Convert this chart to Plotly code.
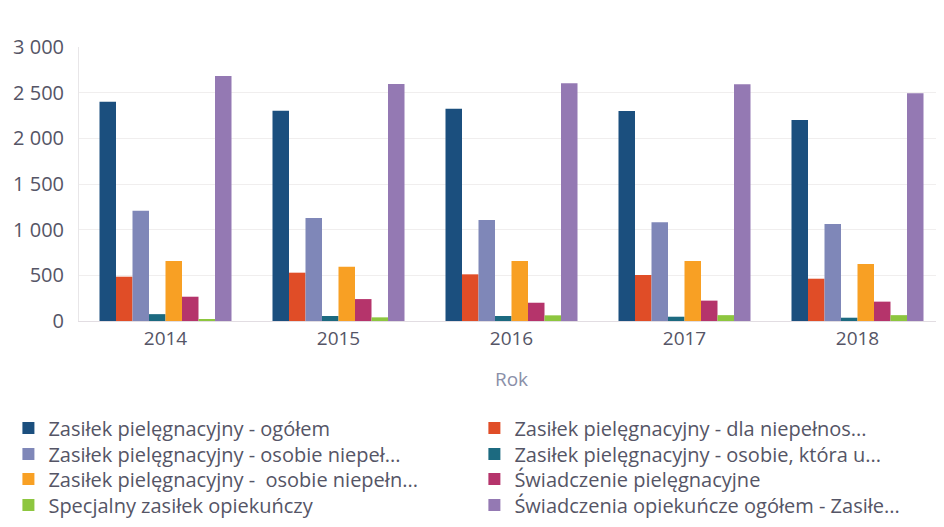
import plotly.graph_objects as go

years = ["2014", "2015", "2016", "2017", "2018"]

series_names = [
    "Zasiłek pielęgnacyjny - ogółem",
    "Zasiłek pielęgnacyjny - dla niepełnos...",
    "Zasiłek pielęgnacyjny - osobie niepeł...",
    "Zasiłek pielęgnacyjny - osobie, która u...",
    "Zasiłek pielęgnacyjny -  osobie niepełn...",
    "Świadczenie pielęgnacyjne",
    "Specjalny zasiłek opiekuńczy",
    "Świadczenia opiekuńcze ogółem - Zasiłe...",
]

zasilek_ogolem = [2400, 2303, 2325, 2300, 2201]
dla_niepelnos = [485, 529, 511, 504, 463]
osobie_niepel = [1208, 1128, 1106, 1081, 1062]
osobie_ktora = [75, 55, 55, 47, 36]
osobie_niepeln = [657, 595, 657, 657, 624]
swiadczenie_piel = [266, 240, 200, 223, 212]
specjalny = [20, 40, 62, 64, 64]
swiadczenia_ogolem = [2683, 2596, 2603, 2592, 2494]

values = [zasilek_ogolem, dla_niepelnos, osobie_niepel, osobie_ktora,
          osobie_niepeln, swiadczenie_piel, specjalny, swiadczenia_ogolem]

colors = ["#1b4f7e", "#e04d27", "#7f87b8", "#1c6a80",
          "#f8a024", "#b5346b", "#8dc63f", "#9479b3"]

fig = go.Figure()
legend_ids = ["legend"] + ["legend%d" % i for i in range(2, 9)]
for i, (name, vals, col) in enumerate(zip(series_names, values, colors)):
    fig.add_trace(go.Bar(x=years, y=vals, name=name, marker_color=col,
                         marker_line_width=0, legend=legend_ids[i]))

# two-column legend layout: one legend box per entry
col_x = [-0.0816, 0.4571]
row_y = [-0.3905, -0.4854, -0.5766, -0.6715]
legend_layout = {}
for i, lid in enumerate(legend_ids):
    legend_layout[lid] = dict(
        x=col_x[i % 2], xanchor="left", y=row_y[i // 2], yanchor="middle",
        orientation="v", itemwidth=30, bgcolor="rgba(0,0,0,0)",
        font=dict(size=20, color="#555566"),
    )

fig.update_layout(
    width=936, height=511,
    margin=dict(l=71, r=0, t=39, b=198, autoexpand=False),
    paper_bgcolor="white", plot_bgcolor="white",
    font=dict(family="Open Sans", size=19, color="#555555"),
    barmode="group", bargap=0.237, bargroupgap=0,
    showlegend=True,
    xaxis=dict(
        title=dict(text="Rok", font=dict(size=19, color="#8a8fa8"), standoff=22),
        showline=True, linecolor="#e2dde2", linewidth=1,
        tickfont=dict(size=19, color="#555566"), ticks="",
    ),
    yaxis=dict(
        range=[0, 3000], tickvals=[0, 500, 1000, 1500, 2000, 2500, 3000],
        ticktext=["0", "500", "1 000", "1 500", "2 000", "2 500", "3 000"],
        gridcolor="#f0eeee", zeroline=False,
        showline=True, linecolor="#e8e6e8", linewidth=1,
        tickfont=dict(size=20, color="#555566"), ticks="",
        ticklabelstandoff=10,
    ),
    **legend_layout,
)

fig.write_html("out.html")
